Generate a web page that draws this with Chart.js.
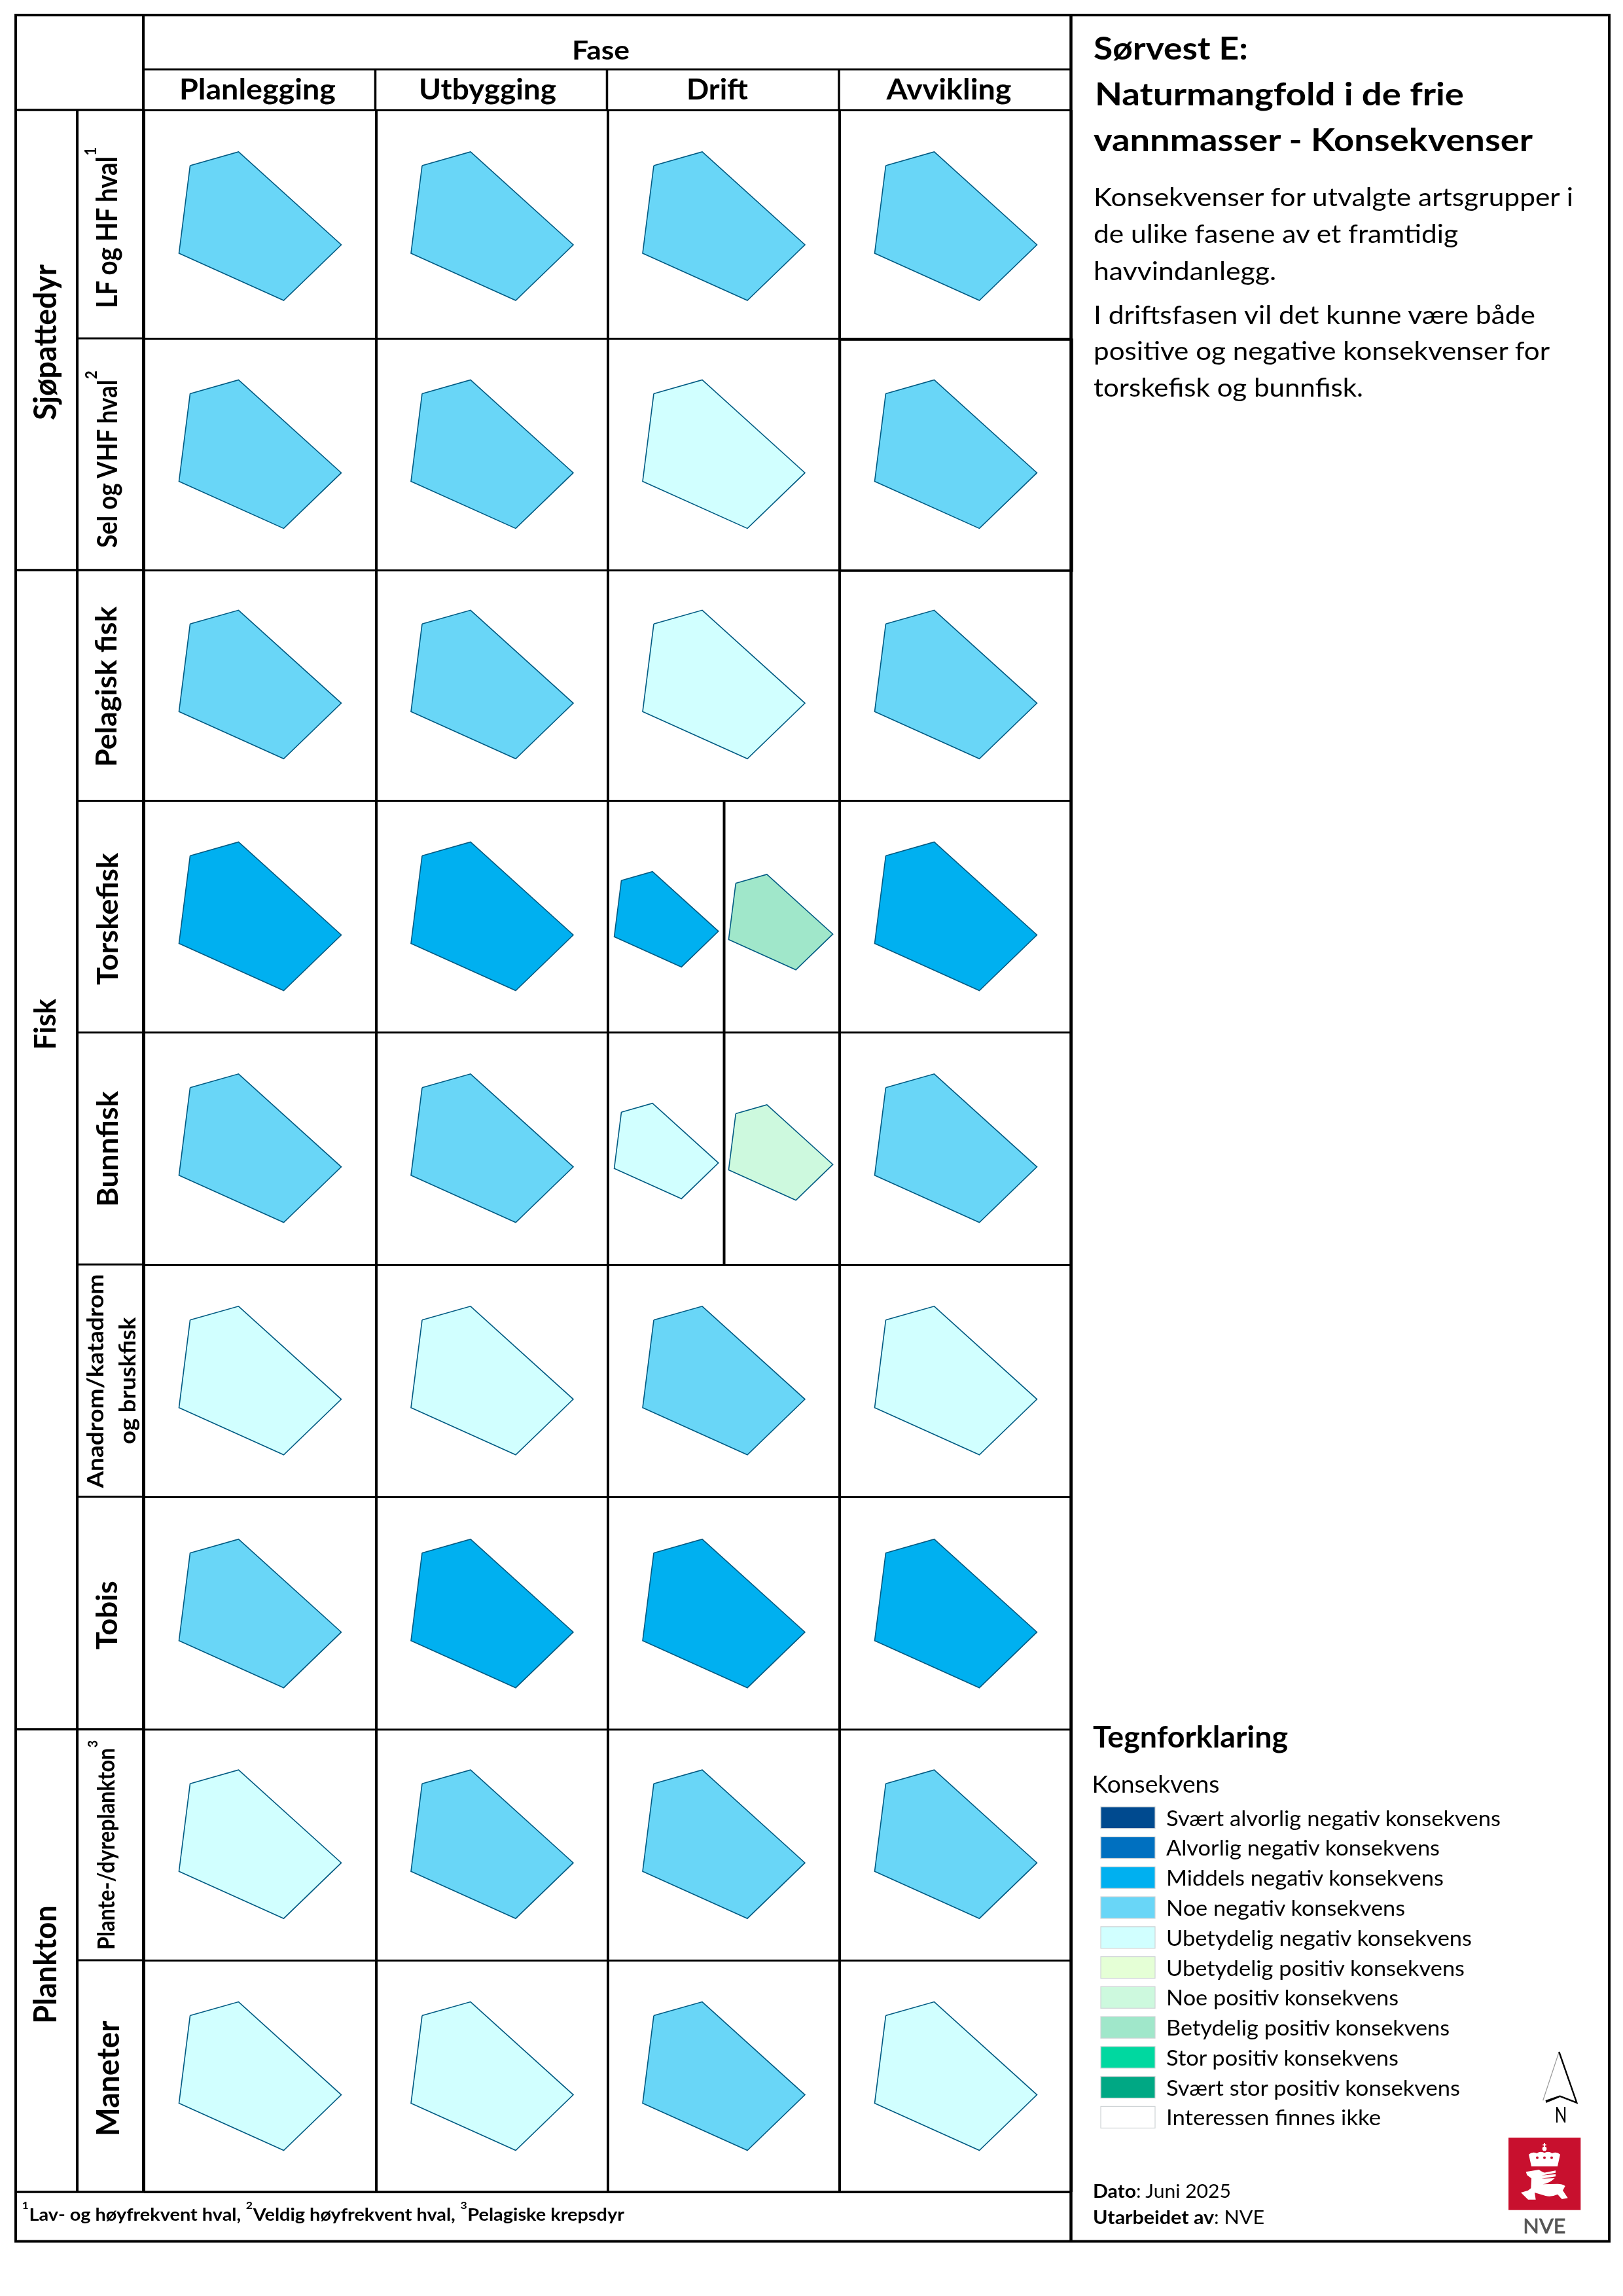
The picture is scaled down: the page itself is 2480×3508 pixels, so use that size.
<!DOCTYPE html>
<html lang="no">
<head>
<meta charset="utf-8">
<title>Sørvest E: Naturmangfold i de frie vannmasser - Konsekvenser</title>
<script src="https://cdn.jsdelivr.net/npm/chart.js@4/dist/chart.umd.js"></script>
<style>
html,body{margin:0;padding:0;background:#fff;width:2480px;height:3508px;overflow:hidden}
#page{position:relative;width:2480px;height:3508px;background:#fff}
canvas{position:absolute;left:200px;top:148px}
svg{position:absolute;left:0;top:0}
text{font-family:Lato,"Noto Sans",sans-serif;fill:#000}
</style>
</head>
<body>
<div id="page"><canvas id="c" width="1457" height="3221"></canvas><svg id="s" width="2480" height="3508" viewBox="0 0 2480 3508" xmlns="http://www.w3.org/2000/svg"></svg></div>
<script>
// ---------- DATA ----------
const phases = ['Planlegging','Utbygging','Drift','Avvikling'];
const phaseTitle = 'Fase';
const groups = ['Sjøpattedyr','Fisk','Plankton'];
const species = ['LF og HF hval¹','Sel og VHF hval²','Pelagisk fisk','Torskefisk','Bunnfisk',
  'Anadrom/katadrom\nog bruskfisk','Tobis','Plante-/dyreplankton³','Maneter'];
const levels = ['Svært alvorlig negativ konsekvens','Alvorlig negativ konsekvens','Middels negativ konsekvens',
  'Noe negativ konsekvens','Ubetydelig negativ konsekvens','Ubetydelig positiv konsekvens','Noe positiv konsekvens',
  'Betydelig positiv konsekvens','Stor positiv konsekvens','Svært stor positiv konsekvens','Interessen finnes ikke'];
// index into levels, one per species
const planlegging = [3,3,3,2,3,4,3,4,4];
const utbygging   = [3,3,3,2,3,4,2,3,4];
const drift       = [3,4,4,2,4,3,2,3,3];
const avvikling   = [3,3,3,2,3,4,2,3,4];
// Drift is split in two for these species: the positive half
const driftPositive = [null,null,null,7,6,null,null,null,null];
// the area outline, relative to its northern vertex
const areaOutline = [[-74,21],[0,0],[157,142],[69,227],[-91,155]];

const titleLines = ['Sørvest E:','Naturmangfold i de frie','vannmasser - Konsekvenser'];
const bodyLines = ['Konsekvenser for utvalgte artsgrupper i','de ulike fasene av et framtidig','havvindanlegg.',
  'I driftsfasen vil det kunne være både','positive og negative konsekvenser for','torskefisk og bunnfisk.'];
const footnote = '¹Lav- og høyfrekvent hval, ²Veldig høyfrekvent hval, ³Pelagiske krepsdyr';

// ---------- STYLE / LAYOUT ----------
const levelColors = ['#004a8f','#0070c0','#00b0f0','#69d6f7','#d1ffff','#e5ffd6','#cdf9de','#a0e7ca','#00d8a0','#00a884','#ffffff'];
const OUTLINE = '#005a82';
const colEdges = [219,573.5,927.5,1282,1636];
const rowEdges = [168,517,871,1223.5,1577.5,1932,2287,2642,2995,3349];
const rowInset = [64,63.4,61.3,63,63.3,63.8,64.7,62.2,63.6];
const NORTH_X = 144.5;
const SPLIT_X = 1105.5, SPLIT_SCALE = 0.642, SPLIT_A = [68.5,108.2], SPLIT_B_X = 65.3, SPLIT_B_Y = {3:112.5,4:110.5};

// ---------- CHART ----------
const phaseValues = [planlegging,utbygging,drift,avvikling];
function outlineAt(ax,ay,k){
  const pts = areaOutline.map(p=>({x:ax+p[0]*k,y:ay+p[1]*k}));
  pts.push({x:pts[0].x,y:pts[0].y});
  return pts;
}
function polygon(pts,level,label){
  return {label,data:pts,showLine:true,fill:'shape',tension:0,pointRadius:0,pointHoverRadius:0,
    backgroundColor:levelColors[level],borderColor:OUTLINE,borderWidth:1.6,borderJoinStyle:'miter'};
}
const datasets = [];
phaseValues.forEach((vals,c)=>{
  vals.forEach((lv,r)=>{
    const name = phases[c]+' – '+species[r];
    if(c===2 && driftPositive[r]!==null){
      datasets.push(polygon(outlineAt(colEdges[c]+SPLIT_A[0],rowEdges[r]+SPLIT_A[1],SPLIT_SCALE),lv,name+' (negativ)'));
      datasets.push(polygon(outlineAt(SPLIT_X+SPLIT_B_X,rowEdges[r]+SPLIT_B_Y[r],SPLIT_SCALE),driftPositive[r],name+' (positiv)'));
    }else{
      datasets.push(polygon(outlineAt(colEdges[c]+NORTH_X,rowEdges[r]+rowInset[r],1),lv,name));
    }
  });
});
datasets.push({label:'Drift-skille',data:[{x:SPLIT_X,y:rowEdges[3]},{x:SPLIT_X,y:rowEdges[5]}],showLine:true,
  pointRadius:0,borderColor:'#000',borderWidth:4,fill:false});

function gridAxis(min,max,edges,width,extra){
  return Object.assign({type:'linear',min,max,display:true,
    afterBuildTicks(a){a.ticks = edges.map(value=>({value}));},
    ticks:{display:false,autoSkip:false},
    border:{display:false},
    grid:{color:'#000',lineWidth:width,drawTicks:false,tickLength:0}},extra||{});
}
Chart.defaults.font.family = 'Lato';
new Chart(document.getElementById('c').getContext('2d'),{
  type:'scatter',
  data:{datasets},
  options:{responsive:false,animation:false,devicePixelRatio:1,
    layout:{padding:20},
    plugins:{legend:{display:false},tooltip:{enabled:false}},
    events:[],
    scales:{
      x:gridAxis(colEdges[0],colEdges[4],colEdges,4),
      y:gridAxis(rowEdges[0],rowEdges[9],rowEdges,3,{reverse:true})
    }
  }
});

// ---------- FRAME AND TEXT ----------
const NS='http://www.w3.org/2000/svg', svg=document.getElementById('s');
function el(tag,attrs,parent){const e=document.createElementNS(NS,tag);for(const k in attrs)e.setAttribute(k,attrs[k]);(parent||svg).appendChild(e);return e;}
function line(x1,y1,x2,y2,w){el('line',{x1,y1,x2,y2,stroke:'#000','stroke-width':w||3});}
// writes the string; superscript digits are drawn a little larger and raised, as in the sheet
function fill(t,str,size){
  const parts=str.split(/([¹²³])/).filter(Boolean);
  if(parts.length===1){t.textContent=str;return;}
  const lift=size*0.17;
  let back=0;
  parts.forEach(p=>{
    const isSup=/[¹²³]/.test(p);
    const a={};
    if(isSup){a.dy=back-lift;a['font-size']=size*1.18;a['font-weight']='normal';back=lift;}
    else if(back){a.dy=back;back=0;}
    el('tspan',a,t).textContent=p;
  });
}
function txt(str,x,y,size,len,weight,extra){
  const a=Object.assign({x,y,'font-size':size,'font-weight':weight||'normal'},extra||{});
  if(len){a.textLength=len;a.lengthAdjust='spacingAndGlyphs';}
  const t=el('text',a);fill(t,str,size);return t;
}
function vtxt(str,baseX,bottomY,size,len,weight){
  return txt(str,0,0,size,len,weight||'bold',{transform:`translate(${baseX},${bottomY}) rotate(-90)`});
}
// outer frame
el('rect',{x:24,y:23,width:2435,height:3401.5,fill:'none',stroke:'#000','stroke-width':4});
line(1636.5,23,1636.5,3424,4.5);
line(219,23,219,3349,4);
line(118,168,118,3349,4);
line(219,106,1636,106,3);
line(24,168,219,168,3.5);
[573.5,927.5,1282].forEach(x=>line(x,106,x,168,3.5));
[871,2642].forEach(y=>line(24,y,219,y,3.5));
[517,1223.5,1577.5,1932,2287,2995].forEach(y=>line(118,y,219,y,3));
line(24,3349,1636,3349,3.5);
// heavier box around one cell, as in the sheet
el('rect',{x:1283.5,y:519,width:354.5,height:353,fill:'none',stroke:'#000','stroke-width':3.5});

// headers
txt(phaseTitle,874,91,40,88,'bold');
const headPos=[[274,239],[640,210],[1049,94],[1354.5,191]];
phases.forEach((p,i)=>txt(p,headPos[i][0],152,44,headPos[i][1],'bold'));

// row labels
vtxt(groups[0],86,642,48,238);
vtxt(groups[1],85,1604,46,78);
vtxt(groups[2],86,3092,47,181);
const specPos=[[178.6,470.7,43,247],[178.6,837,42,271.5],[178.3,1172,44,245.5],[180,1505,44,202],[180,1844,44,177],
  null,[179,2520.4,44,105],[175,2979,36,321],[182,3264,47,176.5]];
species.forEach((s,i)=>{
  if(specPos[i]){const p=specPos[i];vtxt(s,p[0],p[1],p[2],p[3]);}
  else{const [a,b]=s.split('\n');vtxt(a,157.7,2273.6,34,327);vtxt(b,206.7,2206.4,34,194);}
});
txt(footnote,33,3393,26,921,'bold');

// right panel
const titlePos=[[1671,90.6,236],[1673,160.7,564],[1671,231,671]];
titleLines.forEach((s,i)=>txt(s,titlePos[i][0],titlePos[i][1],48.5,titlePos[i][2],'bold'));
const bodyPos=[[315,733],[371,557],[427.7,279],[494.6,675],[550,697],[606,412]];
bodyLines.forEach((s,i)=>txt(s,1671,bodyPos[i][0],38,bodyPos[i][1]));

// legend
txt('Tegnforklaring',1670,2670,46,298,'bold');
txt('Konsekvens',1668.5,2739,37,195);
const legendLens=[511,418,424,365,467,456,355,433,355,449,328];
levels.forEach((s,i)=>{
  const y=2760.7+i*45.77;
  el('rect',{x:1682,y,width:83,height:33,fill:levelColors[i],stroke:'#cfd4d6','stroke-width':1.2});
  txt(s,1782,y+29,33,legendLens[i]);
});

// date and author
const d=txt('',1670,3357.8,29,211);
const d1=el('tspan',{'font-weight':'bold'},d);d1.textContent='Dato';el('tspan',{},d).textContent=': Juni 2025';
const u=txt('',1670,3398,29,262);
const u1=el('tspan',{'font-weight':'bold'},u);u1.textContent='Utarbeidet av';el('tspan',{},u).textContent=': NVE';

// north arrow
el('path',{d:'M2382.3 3135 L2357.7 3209.3',stroke:'#999','stroke-width':1.2,fill:'none'});
el('path',{d:'M2382.3 3135 L2409.3 3212.7 L2382.7 3202.3',stroke:'#000','stroke-width':2.4,fill:'none'});
el('path',{d:'M2361.5 3209 L2382.7 3201.8 L2383 3204.5 L2362.5 3213 Z',fill:'#000'});
txt('N',2375.7,3242.7,33,18.6);

// logo
el('rect',{x:2305,y:3266,width:110.3,height:110.7,fill:'#c8102e'});
const g=el('g',{transform:'translate(2280,3120) scale(0.3333)',fill:'#fff'});
el('circle',{cx:240,cy:489,r:10},g);
el('rect',{x:237,y:463,width:6,height:18},g);
el('rect',{x:232,y:469,width:16,height:5},g);
el('path',{d:'M180 570 L168 515 Q185 500 205 510 Q222 498 240 508 Q258 498 275 510 Q295 500 312 515 L300 570 Z'},g);
[207,240,273].forEach(x=>el('circle',{cx:x,cy:530,r:6,fill:'#c8102e'},g));
el('path',{d:'M155 595 L215 585 Q235 600 245 598 L291 589 L291 599 L226 611 L291 606 L291 616 L226 626 L287 624 Q262 648 232 652 L300 650 Q322 650 335 660 L324 680 L347 715 L320 720 L300 698 Q270 712 245 705 L195 690 L200 722 L165 722 L132 690 L165 680 L178 670 L180 625 L160 610 Z'},g);
txt('NVE',2327.3,3412.3,31,65,'normal',{style:'fill:#555;stroke:#555;stroke-width:.8'});
</script>
</body>
</html>
